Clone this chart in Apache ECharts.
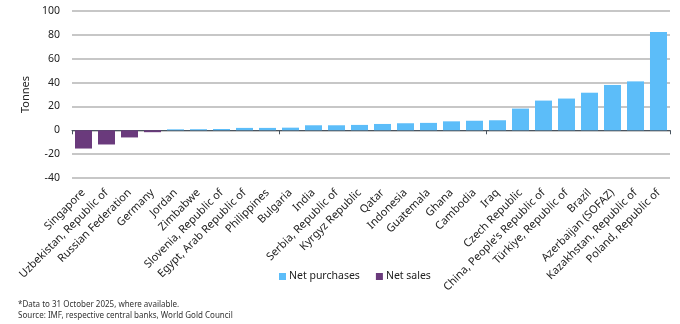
<!DOCTYPE html>
<html>
<head>
<meta charset="utf-8">
<script src="https://cdn.jsdelivr.net/npm/echarts@6/dist/echarts.min.js"></script>
<style>
  html, body { margin: 0; padding: 0; background: #fff; }
  #chart { width: 680px; height: 324px; }
</style>
</head>
<body>
<div id="chart"></div>
<script>
// Central bank gold net purchases / sales, tonnes, year to date
const countries = [
  'Singapore', 'Uzbekistan, Republic of', 'Russian Federation', 'Germany',
  'Jordan', 'Zimbabwe', 'Slovenia, Republic of', 'Egypt, Arab Republic of',
  'Philippines', 'Bulgaria', 'India', 'Serbia, Republic of', 'Kyrgyz Republic',
  'Qatar', 'Indonesia', 'Guatemala', 'Ghana', 'Cambodia', 'Iraq',
  'Czech Republic', "China, People's Republic of", 'Türkiye, Republic of',
  'Brazil', 'Azerbaijan (SOFAZ)', 'Kazakhstan, Republic of', 'Poland, Republic of'
];
const netPurchases = [
  '-', '-', '-', '-',
  0.8, 0.9, 1.1, 2.0, 2.0, 2.2, 4.2, 4.2, 4.5,
  5.3, 5.9, 6.2, 7.5, 8.0, 8.4,
  18.2, 24.9, 26.6, 31.5, 38.0, 41.0, 82.4
];
const netSales = [
  -15.3, -11.9, -6.0, -1.6,
  '-', '-', '-', '-', '-', '-', '-', '-', '-',
  '-', '-', '-', '-', '-', '-',
  '-', '-', '-', '-', '-', '-', '-'
];
const yTicks = { min: -40, max: 100, step: 20 };
const footnotes = [
  '*Data to 31 October 2025, where available.',
  'Source: IMF, respective central banks, World Gold Council'
];

const FONT = '"Noto Sans", "Open Sans", sans-serif';
const BLUE = '#5cbdf9';
const PURPLE = '#6a3a7c';

const chart = echarts.init(document.getElementById('chart'), null, { renderer: 'canvas' });

chart.setOption({
  animation: false,
  textStyle: { fontFamily: FONT },
  grid: { left: 72, right: 10, top: 11, bottom: 146, containLabel: false },
  legend: {
    left: 274,
    top: 266,
    itemWidth: 7,
    itemHeight: 7,
    itemGap: 16,
    icon: 'rect',
    textStyle: { fontFamily: FONT, fontSize: 10.5, color: '#222', padding: [0, 0, 0, -2] },
    data: ['Net purchases', 'Net sales']
  },
  xAxis: [
    {
      // zero line with category ticks
      type: 'category',
      data: countries,
      axisLine: { onZero: true, lineStyle: { color: '#4a5560', width: 1 } },
      axisTick: { show: true, length: 4, lineStyle: { color: '#4a5560' } },
      axisLabel: { show: false },
      splitLine: { show: false }
    },
    {
      // country names along the bottom of the plot
      type: 'category',
      position: 'bottom',
      data: countries,
      axisLine: { show: false, onZero: false },
      axisTick: { show: false },
      axisLabel: {
        interval: 0,
        rotate: 45,
        margin: 13,
        fontFamily: FONT,
        fontSize: 11,
        color: '#222'
      }
    }
  ],
  yAxis: {
    type: 'value',
    min: yTicks.min,
    max: yTicks.max,
    interval: yTicks.step,
    name: 'Tonnes',
    nameLocation: 'middle',
    nameGap: 28,
    nameTextStyle: { fontFamily: FONT, fontSize: 11, color: '#222' },
    axisLine: { show: false },
    axisTick: { show: false },
    axisLabel: { fontFamily: FONT, fontSize: 10.5, color: '#222', margin: 12 },
    splitLine: { lineStyle: { color: '#b4b4b4', width: 1.5 } }
  },
  series: [
    {
      name: 'Net purchases',
      type: 'bar',
      stack: 'flow',
      xAxisIndex: 0,
      barCategoryGap: '26%',
      itemStyle: { color: BLUE },
      data: netPurchases
    },
    {
      name: 'Net sales',
      type: 'bar',
      stack: 'flow',
      xAxisIndex: 0,
      barCategoryGap: '26%',
      itemStyle: { color: PURPLE },
      data: netSales
    }
  ],
  graphic: footnotes.map((t, i) => ({
    type: 'text',
    left: 18,
    top: 301 + i * 10.5,
    style: { text: t, fontFamily: FONT, fontSize: 8, fill: '#333' }
  }))
});
</script>
</body>
</html>
